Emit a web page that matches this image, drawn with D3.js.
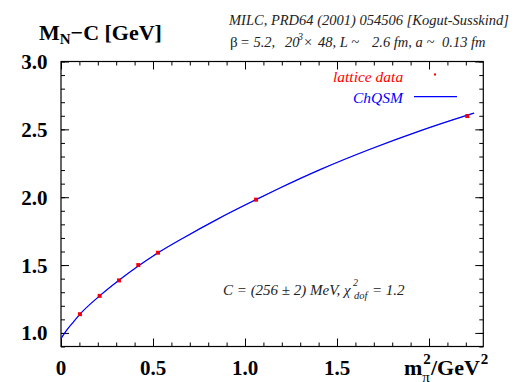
<!DOCTYPE html>
<html><head><meta charset="utf-8">
<script src="https://cdn.jsdelivr.net/npm/d3@7"></script>
<style>
html,body{margin:0;padding:0;background:#fff;}
svg{display:block;}
</style></head>
<body>
<svg id="chart" width="517" height="382" font-family="Liberation Serif"></svg>
<script>
// ---- data ----
const latticeX = [0.103, 0.21, 0.315, 0.42, 0.527, 1.06, 2.208];
const latticeY = [1.138, 1.273, 1.387, 1.50, 1.591, 1.982, 2.598];
const fitX = [0, 0.031, 0.067, 0.103, 0.21, 0.315, 0.42, 0.527, 0.665, 0.846, 1.06, 1.181, 1.408, 1.679, 1.951, 2.205, 2.245];
const fitY = [0.958, 1.02, 1.08, 1.138, 1.273, 1.388, 1.493, 1.590, 1.700, 1.835, 1.982, 2.062, 2.203, 2.353, 2.489, 2.603, 2.62];
const xMajor = [0, 0.5, 1.0, 1.5, 2.0];
const xLabels = ["0", "0.5", "1.0", "1.5", ""];
const yMajor = [1.0, 1.5, 2.0, 2.5, 3.0];
const yLabels = ["1.0", "1.5", "2.0", "2.5", "3.0"];
const xMinor = d3.range(0, 23).map(i => i / 10);
const yMinor = d3.range(9, 31).map(i => i / 10);

const FONT = "Liberation Serif";
const svg = d3.select("#chart");
const L = 61, R = 483.3, T = 61.5, B = 346.5;
const x = d3.scaleLinear().domain([0, 2.295]).range([L, R]);
const y = d3.scaleLinear().domain([0.9, 3.0]).range([B, T]);

const red = "#ff0000", blue = "#0000ff", ink = "#222";

function txt(xp, yp, size, opts = {}) {
  const t = svg.append("text").attr("x", xp).attr("y", yp).attr("font-family", FONT)
    .attr("font-size", size).attr("fill", opts.fill || "#000");
  if (opts.bold) t.attr("font-weight", "bold");
  if (opts.italic) t.attr("font-style", "italic");
  if (opts.anchor) t.attr("text-anchor", opts.anchor);
  return t;
}

// axes (ticks pointing inward)
function styleAxis(g){ g.select(".domain").remove(); g.selectAll("line").attr("stroke","#000").attr("stroke-width",1); g.selectAll("text").remove(); }
svg.append("g").attr("transform",`translate(0,${B})`).call(d3.axisBottom(x).tickValues(xMinor).tickSize(-4)).call(styleAxis);
svg.append("g").attr("transform",`translate(0,${B})`).call(d3.axisBottom(x).tickValues(xMajor).tickSize(-8)).call(styleAxis);
svg.append("g").attr("transform",`translate(0,${T})`).call(d3.axisTop(x).tickValues(xMinor).tickSize(-4)).call(styleAxis);
svg.append("g").attr("transform",`translate(0,${T})`).call(d3.axisTop(x).tickValues(xMajor).tickSize(-8)).call(styleAxis);
svg.append("g").attr("transform",`translate(${L},0)`).call(d3.axisLeft(y).tickValues(yMinor).tickSize(-4)).call(styleAxis);
svg.append("g").attr("transform",`translate(${L},0)`).call(d3.axisLeft(y).tickValues(yMajor).tickSize(-8)).call(styleAxis);
svg.append("g").attr("transform",`translate(${R},0)`).call(d3.axisRight(y).tickValues(yMinor).tickSize(-4)).call(styleAxis);
svg.append("g").attr("transform",`translate(${R},0)`).call(d3.axisRight(y).tickValues(yMajor).tickSize(-8)).call(styleAxis);

// frame
svg.append("rect").attr("x",L).attr("y",T).attr("width",R-L).attr("height",B-T)
  .attr("fill","none").attr("stroke","#000").attr("stroke-width",1.2);

// tick labels
xMajor.forEach((d,i) => { if (xLabels[i]) txt(x(d), 375, 21, {bold:true, anchor:"middle"}).text(xLabels[i]); });
yMajor.forEach((d,i) => txt(47.5, y(d) + 7.5, 21, {bold:true, anchor:"end"}).text(yLabels[i]));

// fit curve
const fitData = fitX.map((v,i) => [v, fitY[i]]);
const line = d3.line().x(d => x(d[0])).y(d => y(d[1])).curve(d3.curveMonotoneX);
svg.append("path").datum(fitData).attr("d", line)
  .attr("fill","none").attr("stroke",blue).attr("stroke-width",1.2);

// lattice data markers
const latData = latticeX.map((v,i) => [v, latticeY[i]]);
svg.append("g").selectAll("rect").data(latData).join("rect")
  .attr("x", d => x(d[0]) - 2).attr("y", d => y(d[1]) - 2)
  .attr("width",4).attr("height",4).attr("fill",red);
svg.append("path").datum(fitData).attr("d", line)
  .attr("fill","none").attr("stroke",blue).attr("stroke-width",0.6).attr("opacity",0.6);

// legend
txt(333, 82, 15.5, {italic:true, fill:red}).text("lattice data");
svg.append("rect").attr("x",434).attr("y",73.5).attr("width",2).attr("height",2).attr("fill",red);
txt(353, 103, 15.5, {italic:true, fill:blue}).text("ChQSM");
svg.append("line").attr("x1",414).attr("x2",457).attr("y1",96.7).attr("y2",96.7)
  .attr("stroke",blue).attr("stroke-width",1.2);

// title
const title = txt(39, 40, 22, {bold:true});
title.append("tspan").text("M");
title.append("tspan").attr("font-size",15).attr("dy",4).text("N");
title.append("tspan").attr("dy",-4).text("−C [GeV]");

// header lines
txt(229, 25, 14.5, {italic:true, fill:ink}).text("MILC, PRD64 (2001) 054506 [Kogut-Susskind]");
const hy = 47;
txt(230, hy, 15, {fill:ink}).text("β");
txt(240, hy, 14.5, {italic:true, fill:ink}).text("= 5.2,");
txt(285, hy, 14.5, {italic:true, fill:ink}).text("20");
txt(298, hy-7, 10, {italic:true, fill:ink}).text("3");
txt(304, hy, 14.5, {fill:ink}).text("×");
txt(318, hy, 14.5, {italic:true, fill:ink}).text("48, L ~");
txt(372, hy, 14.5, {italic:true, fill:ink}).text("2.6 fm, a ~");
txt(442, hy, 14.5, {italic:true, fill:ink}).text("0.13 fm");

// annotation
const ay0 = 295;
txt(223, ay0, 15, {italic:true, fill:ink}).text("C = (256 ± 2) MeV,");
txt(344, ay0, 15, {italic:true, fill:ink}).text("χ");
txt(353, ay0-9, 10, {italic:true, fill:ink}).text("2");
txt(354, ay0+4, 10.5, {italic:true, fill:ink}).text("dof");
txt(372, ay0, 15, {italic:true, fill:ink}).text("= 1.2");

// x axis title
const bx = 404, by = 375;
const m = txt(bx, by, 22, {bold:true}).text("m");
const wm = m.node().getComputedTextLength();
txt(bx+wm+1, by-11, 15, {bold:true}).text("2");
const pi = txt(bx+wm, by+7, 15).text("π");
const wpi = pi.node().getComputedTextLength();
const g2 = txt(bx+wm+wpi+1, by, 22, {bold:true}).text("/GeV");
const wg = g2.node().getComputedTextLength();
txt(bx+wm+wpi+1+wg+1, by-11, 15, {bold:true}).text("2");
</script>
</body></html>
